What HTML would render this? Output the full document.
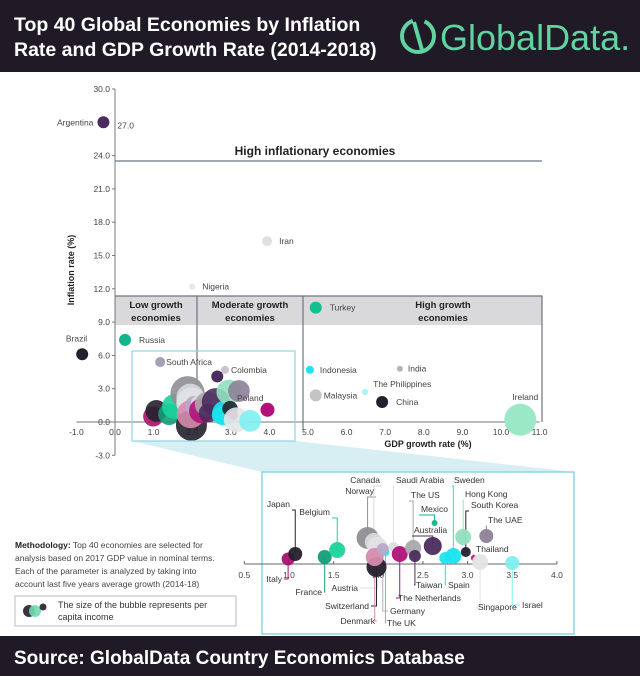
<!DOCTYPE html>
<html><head><meta charset="utf-8"><style>
body{margin:0;width:640px;height:676px;overflow:hidden;background:#fff;font-family:"Liberation Sans",sans-serif}
svg{display:block}
text{font-family:"Liberation Sans",sans-serif}
</style></head><body>
<svg id="chart" width="640" height="676" viewBox="0 0 640 676" xmlns="http://www.w3.org/2000/svg">
<rect x="0" y="0" width="640" height="72" fill="#1f1a26"/>
<text x="14" y="31" fill="#fff" font-size="19.5" font-weight="bold">Top 40 Global Economies by Inflation</text>
<text x="14" y="56" fill="#fff" font-size="19.5" font-weight="bold">Rate and GDP Growth Rate (2014-2018)</text>
<g>
<circle cx="418" cy="36" r="16" fill="none" stroke="#5fd3a0" stroke-width="4" stroke-dasharray="70 12"/>
<line x1="414" y1="22" x2="422" y2="50" stroke="#5fd3a0" stroke-width="4"/>
<text x="440" y="50" fill="#5fd3a0" font-size="36">GlobalData.</text>
</g>
<rect x="0" y="636" width="640" height="40" fill="#1f1a26"/>
<text x="14" y="664" fill="#fff" font-size="19" font-weight="bold">Source: GlobalData Country Economics Database</text>
<g id="main"></g>
<g id="inset"></g>
<g font-size="8.5" fill="#444">
<text x="15" y="548"><tspan font-weight="bold" fill="#222">Methodology:</tspan> Top 40 economies are selected for</text>
<text x="15" y="561">analysis based on 2017 GDP value in nominal terms.</text>
<text x="15" y="574">Each of the parameter is analyzed by taking into</text>
<text x="15" y="587">account last five years average growth (2014-18)</text>
</g>
<g>
<rect x="15" y="596" width="221" height="30" fill="#fff" stroke="#bbb"/>
<circle cx="29" cy="611" r="6" fill="#3a3440"/><circle cx="35" cy="611" r="6" fill="#6fdcb0" opacity="0.9"/><circle cx="43" cy="607" r="3.5" fill="#3a3440"/>
<text x="58" y="608" font-size="9" fill="#333">The size of the bubble represents per</text>
<text x="58" y="620" font-size="9" fill="#333">capita income</text>
</g>
</svg>
<script>
// ---- main chart data ----
const mainNames = ["Argentina","Iran","Nigeria","Turkey","Russia","Brazil","South Africa","Colombia","Poland","Indonesia","India","Malaysia","The Philippines","China","Ireland","Unlabeled"];
const mainGdp = [-0.3,3.94,2.0,5.2,0.26,-0.85,1.17,2.85,3.95,5.05,7.38,5.2,6.48,6.92,10.5,2.65];
const mainInfl = [27.0,16.3,12.2,10.3,7.4,6.1,5.4,4.7,1.1,4.7,4.8,2.4,2.7,1.8,0.2,4.1];
const mainSize = [6,5,3,6,6,6,5,4,7,4,3,6,3,6,16,6];
const mainColor = ["#4b2c5e","#dfe0e3","#e6e7ea","#11c08d","#11b58a","#25202e","#a79fb3","#c9c3cf","#b0127a","#1de5ee","#b5b5b8","#c4c4c6","#a9f3f5","#25202e","#9ae8c6","#4b2c5e"];
const xTicksMain = [-1,0,1,2,3,4,5,6,7,8,9,10,11];
const yTicksMain = [-3,0,3,6,9,12,15,18,21,24,30];
// ---- inset data ----
const insetNames = ["Italy","Japan","France","Belgium","Norway","Canada","Austria","Switzerland","Denmark","The UK","Germany","Saudi Arabia","The Netherlands","The US","Taiwan","Australia","Mexico","Spain","Sweden","Hong Kong","South Korea","Thailand","Singapore","The UAE","Israel"];
const insetGdp = [0.99,1.07,1.4,1.54,1.88,1.95,1.99,1.98,1.96,2.08,2.05,2.17,2.24,2.39,2.41,2.61,2.63,2.75,2.84,2.95,2.98,3.07,3.14,3.21,3.5];
const insetInfl = [0.5,1.0,0.7,1.4,2.6,2.2,1.7,-0.3,0.7,1.2,1.5,1.7,1.0,1.6,0.8,1.8,4.1,0.6,0.8,2.7,1.2,0.6,0.2,2.8,0.1];
const insetSize = [6.5,7,7,8,11,9,10,10,9,4,6,5,8,8,6,9,3,6,8,8,5,3,8,7,7];
const insetColor = ["#a8126a","#25202e","#129e78","#1ad39b","#8f8f93","#d8d9dc","#e1e2e4","#25202e","#d58cad","#1de5ee","#b9a9c9","#dcdddf","#b0127a","#a9a9ac","#4b2c5e","#4b2c5e","#11b58a","#1de5ee","#19e3ec","#8fe1bd","#25202e","#c8127a","#e3e4e6","#8e7f98","#7fefef"];
const xTicksInset = [0.5,1.0,1.5,2.0,2.5,3.0,3.5,4.0];

const NS="http://www.w3.org/2000/svg";
function mk(parent,tag,attrs){const e=document.createElementNS(NS,tag);for(const k in attrs)e.setAttribute(k,attrs[k]);parent.appendChild(e);return e;}
const xM=v=>115+v*38.6, yM=v=>422-v*11.1;
const xI=v=>289+(v-1)*89.3, yI=v=>564-v*10;
const main=document.getElementById('main'), inset=document.getElementById('inset');

let el;
el=mk(main,'polygon',{points:"132,441 295,441 574,472 262,472",fill:"#cdeaf0",opacity:"0.8"});


el=mk(main,'rect',{x:115,y:296,width:427,height:29,fill:"#d9d9dc"});


el=mk(main,'path',{d:"M115 296 H542 V422 M197 296 V430 M303 296 V430 M115 161 H542",fill:"none",stroke:"#6d7582","stroke-width":1.2});


[["High inflationary economies",315,155,12],["Low growth",156,308,9.5],["economies",156,321,9.5],["Moderate growth",250,308,9.5],["economies",250,321,9.5],["High growth",443,308,9.5],["economies",443,321,9.5]].forEach(t=>{
 const e=mk(main,'text',{x:t[1],y:t[2],"text-anchor":"middle","font-size":t[3],"font-weight":"bold",fill:"#222"});e.textContent=t[0];
 
 
});
el=mk(main,'path',{d:`M${xM(-1)} ${yM(0)} H${xM(11)} M${xM(0)} ${yM(30)} V${yM(-3)}`,stroke:"#777",fill:"none"});


xTicksMain.forEach(v=>{const t=mk(main,'text',{x:xM(v),y:yM(0)+13,"text-anchor":"middle","font-size":8.5,fill:"#444"});t.textContent=v.toFixed(1);
 
 });
yTicksMain.forEach(v=>{mk(main,'line',{x1:xM(0)-3,x2:xM(0),y1:yM(v),y2:yM(v),stroke:"#777"});const t=mk(main,'text',{x:xM(0)-5,y:yM(v)+3,"text-anchor":"end","font-size":8.5,fill:"#444"});t.textContent=v.toFixed(1);
 
 });
el=mk(main,'text',{x:0,y:0,transform:"translate(74,270) rotate(-90)","text-anchor":"middle","font-size":9,"font-weight":"bold",fill:"#222"});el.textContent="Inflation rate (%)";


el=mk(main,'text',{x:428,y:447,"text-anchor":"middle","font-size":9,"font-weight":"bold",fill:"#222"});el.textContent="GDP growth rate (%)";


insetNames.forEach((n,i)=>{const c=mk(main,'circle',{cx:xM(insetGdp[i]),cy:yM(insetInfl[i]),r:insetSize[i]*1.55,fill:insetColor[i],opacity:0.9});
 
 });
const mainLabelPos={"Argentina":["end",-10,3],"Iran":["start",12,3],"Nigeria":["start",10,3],"Turkey":["start",14,3],"Russia":["start",14,3],"Brazil":["end",5,-13],"South Africa":["start",6,3],"Colombia":["start",6,3],"Poland":["end",-4,-9],"Indonesia":["start",10,3],"India":["start",8,3],"Malaysia":["start",8,3],"The Philippines":["start",8,-5],"China":["start",14,3],"Ireland":["middle",5,-20]};
mainNames.forEach((n,i)=>{const c=mk(main,'circle',{cx:xM(mainGdp[i]),cy:yM(mainInfl[i]),r:mainSize[i],fill:mainColor[i]});
 
 
 const p=mainLabelPos[n];if(p){const t=mk(main,'text',{x:xM(mainGdp[i])+p[1],y:yM(mainInfl[i])+p[2],"text-anchor":p[0],"font-size":8.5,fill:"#444"});t.textContent=n;
 
 }});
el=mk(main,'text',{x:xM(mainGdp[0])+14,y:yM(mainInfl[0])+6,"font-size":8.5,fill:"#444"});el.textContent=mainInfl[0].toFixed(1);


el=mk(main,'rect',{x:132,y:351,width:163,height:90,fill:"none",stroke:"#8fd6e0","stroke-width":1.2});



el=mk(inset,'rect',{x:262,y:472,width:312,height:162,fill:"#fff",stroke:"#8fd6e0","stroke-width":1.5});


el=mk(inset,'path',{d:`M${xI(0.5)} ${yI(0)} H${xI(4)}`,stroke:"#666"});


xTicksInset.forEach(v=>{mk(inset,'line',{x1:xI(v),x2:xI(v),y1:yI(0)-3,y2:yI(0),stroke:"#666"});const t=mk(inset,'text',{x:xI(v),y:yI(0)+14,"text-anchor":"middle","font-size":8.5,fill:"#444"});t.textContent=v.toFixed(1);
 
 });
const lab={"Japan":[290,507,"end"],"Belgium":[330,515,"end"],"Canada":[380,483,"end"],"Norway":[374,494,"end"],"Saudi Arabia":[396,483,"start"],"The US":[411,498,"start"],"Mexico":[421,512,"start"],"Australia":[414,533,"start"],"Sweden":[454,483,"start"],"Hong Kong":[465,497,"start"],"South Korea":[471,508,"start"],"The UAE":[488,523,"start"],"Thailand":[476,552,"start"],"Italy":[282,582,"end"],"France":[322,595,"end"],"Austria":[358,591,"end"],"Switzerland":[369,609,"end"],"Denmark":[375,624,"end"],"The UK":[387,626,"start"],"Germany":[390,614,"start"],"The Netherlands":[398,601,"start"],"Taiwan":[416,588,"start"],"Spain":[448,588,"start"],"Singapore":[478,610,"start"],"Israel":[522,608,"start"]};
insetNames.forEach((n,i)=>{const L=lab[n],bx=xI(insetGdp[i]),by=yI(insetInfl[i]);
 const above=L[1]<by;const ly=above?L[1]+3:L[1]-3;const lx=L[2]==="end"?L[0]+2:L[0]-2;
 const ln=mk(inset,'path',{d:`M${lx} ${ly} H${bx} V${by}`,fill:"none",stroke:insetColor[i],"stroke-width":1});
 
 });
insetNames.forEach((n,i)=>{const c=mk(inset,'circle',{cx:xI(insetGdp[i]),cy:yI(insetInfl[i]),r:insetSize[i],fill:insetColor[i],opacity:0.95});
 
 
 const L=lab[n];const t=mk(inset,'text',{x:L[0],y:L[1],"text-anchor":L[2],"font-size":8.5,fill:"#333"});t.textContent=n;
 
 });
</script>
</body></html>
